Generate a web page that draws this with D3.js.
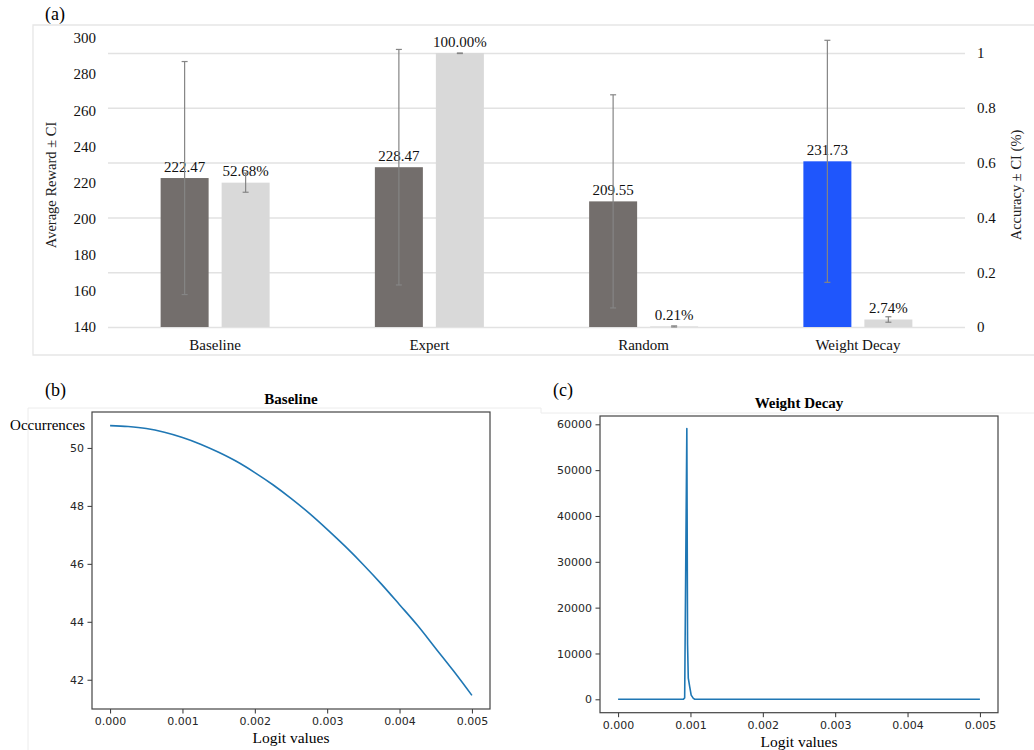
<!DOCTYPE html>
<html>
<head>
<meta charset="utf-8">
<script src="https://cdn.jsdelivr.net/npm/d3@7"></script>
<style>
    body { margin: 0; background: #fff; }
    svg { display: block; }
</style>
</head>
<body>
<div id="fig"></div>
<script>
// (a) bar chart values
var categories = ["Baseline", "Expert", "Random", "Weight Decay"];
var rewardMeans = [222.47, 228.47, 209.55, 231.73];
var rewardCI = [64.5, 65.2, 59.0, 67.0];
var accuracy = [0.5268, 1.0, 0.0021, 0.0274];
var accuracyCI = [0.035, 0.002, 0.002, 0.01];
var rewardTicks = [140, 160, 180, 200, 220, 240, 260, 280, 300];
var accuracyTicks = [0, 0.2, 0.4, 0.6, 0.8, 1];
var accuracyTickLabels = ["0", "0.2", "0.4", "0.6", "0.8", "1"];

// (b) baseline logit distribution
var baselineLogits = [0, 0.00025, 0.0005, 0.00075, 0.001, 0.00125, 0.0015, 0.00175, 0.002, 0.00225,
    0.0025, 0.00275, 0.003, 0.00325, 0.0035, 0.00375, 0.004, 0.00425, 0.0045, 0.00475, 0.005];
var baselineOccurrences = [50.77, 50.74, 50.67, 50.54, 50.36, 50.13, 49.85, 49.53, 49.15, 48.73,
    48.26, 47.75, 47.19, 46.60, 45.97, 45.30, 44.59, 43.87, 43.08, 42.29, 41.46];
var baselineYTicks = [42, 44, 46, 48, 50];

// (c) weight decay logit distribution
var decayLogits = [0, 0.0009, 0.00092, 0.00095, 0.00096, 0.00097, 0.00099, 0.00101, 0.00104, 0.00106, 0.005];
var decayOccurrences = [0, 0, 300, 59100, 12000, 4600, 2700, 900, 200, 0, 0];
var decayYTicks = [0, 10000, 20000, 30000, 40000, 50000, 60000];

var logitTicks = [0, 0.001, 0.002, 0.003, 0.004, 0.005];

var serif = "'Liberation Serif', 'Times New Roman', serif";
var sans = "'DejaVu Sans', sans-serif";

var svg = d3.select("#fig")
    .append("svg")
    .attr("width", 1034)
    .attr("height", 750);

// ---------- panel (a) ----------
var boxColor = "#e6e6e6";
svg.append("path")
    .attr("d", "M1034,25 H33 V355 H1034")
    .attr("fill", "none")
    .attr("stroke", boxColor)
    .attr("stroke-width", 1.3);

svg.append("text")
    .attr("x", 45)
    .attr("y", 20)
    .attr("font-family", serif)
    .attr("font-size", 18)
    .text("(a)");

var xBand = d3.scaleBand()
    .domain(categories)
    .range([108, 965]);

var rewardY = d3.scaleLinear()
    .domain([140, 300])
    .range([327, 38]);

var accY = d3.scaleLinear()
    .domain([0, 1])
    .range([327, 53]);

// gridlines follow the accuracy axis
var grid = svg.append("g")
    .attr("transform", "translate(108,0)")
    .call(d3.axisRight(accY).tickValues(accuracyTicks).tickSize(857).tickFormat(""));
grid.select(".domain").remove();
grid.selectAll("line").attr("stroke", "#e2e2e2").attr("stroke-width", 1.5);

var leftAxis = svg.append("g")
    .attr("transform", "translate(96,0)")
    .call(d3.axisLeft(rewardY).tickValues(rewardTicks).tickSize(0).tickPadding(0));
leftAxis.select(".domain").remove();
leftAxis.selectAll("text")
    .attr("font-family", serif)
    .attr("font-size", 15)
    .attr("fill", "#111");

var rightAxis = svg.append("g")
    .attr("transform", "translate(977,0)")
    .call(d3.axisRight(accY).tickValues(accuracyTicks).tickSize(0).tickPadding(0)
        .tickFormat(function (d, i) { return accuracyTickLabels[i]; }));
rightAxis.select(".domain").remove();
rightAxis.selectAll("text")
    .attr("font-family", serif)
    .attr("font-size", 15)
    .attr("fill", "#111");

var catAxis = svg.append("g")
    .attr("transform", "translate(0,327)")
    .call(d3.axisBottom(xBand).tickSize(0).tickPadding(12));
catAxis.select(".domain").remove();
catAxis.selectAll("text")
    .attr("font-family", serif)
    .attr("font-size", 15)
    .attr("fill", "#111");

svg.append("text")
    .attr("transform", "translate(56,185) rotate(-90)")
    .attr("text-anchor", "middle")
    .attr("font-family", serif)
    .attr("font-size", 14.5)
    .attr("fill", "#222")
    .text("Average Reward \u00b1 CI");

svg.append("text")
    .attr("transform", "translate(1021,185) rotate(-90)")
    .attr("text-anchor", "middle")
    .attr("font-family", serif)
    .attr("font-size", 14.5)
    .attr("fill", "#222")
    .text("Accuracy \u00b1 CI (%)");

function center(d) {
    return xBand(d) + xBand.bandwidth() / 2;
}

var barW = 48;
var groups = svg.selectAll(".cat")
    .data(categories)
    .enter()
    .append("g")
    .attr("class", "cat");

// reward bars
groups.append("rect")
    .attr("x", function (d) { return center(d) - 54.5; })
    .attr("y", function (d, i) { return rewardY(rewardMeans[i]); })
    .attr("width", barW)
    .attr("height", function (d, i) { return rewardY(140) - rewardY(rewardMeans[i]); })
    .attr("fill", function (d) { return d === "Weight Decay" ? "#1f56fc" : "#736e6c"; });

// accuracy bars
groups.append("rect")
    .attr("x", function (d) { return center(d) + 6.5; })
    .attr("y", function (d, i) { return accY(accuracy[i]); })
    .attr("width", barW)
    .attr("height", function (d, i) { return accY(0) - accY(accuracy[i]); })
    .attr("fill", "#d9d9d9");

groups.append("text")
    .attr("x", function (d) { return center(d) - 30.5; })
    .attr("y", function (d, i) { return rewardY(rewardMeans[i]) - 6; })
    .attr("text-anchor", "middle")
    .attr("font-family", serif)
    .attr("font-size", 15)
    .attr("fill", "#111")
    .text(function (d, i) { return rewardMeans[i].toFixed(2); });

groups.append("text")
    .attr("x", function (d) { return center(d) + 30.5; })
    .attr("y", function (d, i) { return accY(accuracy[i]) - 6.5; })
    .attr("text-anchor", "middle")
    .attr("font-family", serif)
    .attr("font-size", 15)
    .attr("fill", "#111")
    .text(function (d, i) { return (accuracy[i] * 100).toFixed(2) + "%"; });

function errorBar(sel, cx, top, bottom) {
    sel.append("line")
        .attr("x1", cx).attr("x2", cx)
        .attr("y1", top).attr("y2", bottom);
    sel.append("line")
        .attr("x1", cx - 3).attr("x2", cx + 3)
        .attr("y1", top).attr("y2", top);
    sel.append("line")
        .attr("x1", cx - 3).attr("x2", cx + 3)
        .attr("y1", bottom).attr("y2", bottom);
}

groups.each(function (d, i) {
    var g = d3.select(this).append("g")
        .attr("stroke", "#858585")
        .attr("stroke-width", 1.2);
    errorBar(g, center(d) - 30.5,
        rewardY(rewardMeans[i] + rewardCI[i]), rewardY(rewardMeans[i] - rewardCI[i]));
    errorBar(g, center(d) + 30.5,
        accY(Math.min(1, accuracy[i] + accuracyCI[i])), accY(Math.max(0, accuracy[i] - accuracyCI[i])));
});

// ---------- panels (b) and (c) ----------
svg.append("path")
    .attr("d", "M28,750 V408 H541 V413 H1034")
    .attr("fill", "none")
    .attr("stroke", "#ececec")
    .attr("stroke-width", 1);

function linePanel(opt) {
    var x = d3.scaleLinear()
        .domain([-0.00025, 0.00525])
        .range([opt.left, opt.right]);
    var y = d3.scaleLinear()
        .domain(opt.yDomain)
        .range([opt.bottom, opt.top]);

    var xa = svg.append("g")
        .attr("transform", "translate(0," + opt.bottom + ")")
        .call(d3.axisBottom(x).tickValues(logitTicks).tickFormat(d3.format(".3f")).tickSize(4.5).tickPadding(4));
    var ya = svg.append("g")
        .attr("transform", "translate(" + opt.left + ",0)")
        .call(d3.axisLeft(y).tickValues(opt.yTicks).tickFormat(d3.format("d")).tickSize(4.5).tickPadding(3.5));
    [xa, ya].forEach(function (a) {
        a.select(".domain").remove();
        a.selectAll("line").attr("stroke", "#333").attr("stroke-width", 1);
        a.selectAll("text")
            .attr("font-family", sans)
            .attr("font-size", 11)
            .attr("fill", "#262626");
    });

    svg.append("path")
        .datum(opt.xs)
        .attr("fill", "none")
        .attr("stroke", "#1f77b4")
        .attr("stroke-width", 1.6)
        .attr("stroke-linejoin", "round")
        .attr("d", d3.line()
            .x(function (d) { return x(d); })
            .y(function (d, i) { return y(opt.ys[i]); })
            .curve(opt.curve));

    svg.append("rect")
        .attr("x", opt.left)
        .attr("y", opt.top)
        .attr("width", opt.right - opt.left)
        .attr("height", opt.bottom - opt.top)
        .attr("fill", "none")
        .attr("stroke", "#444")
        .attr("stroke-width", 1.2);

    var mid = (opt.left + opt.right) / 2;
    svg.append("text")
        .attr("x", mid)
        .attr("y", opt.top - 8)
        .attr("text-anchor", "middle")
        .attr("font-family", serif)
        .attr("font-weight", "bold")
        .attr("font-size", 15)
        .text(opt.title);

    svg.append("text")
        .attr("x", mid)
        .attr("y", opt.bottom + 34)
        .attr("text-anchor", "middle")
        .attr("font-family", serif)
        .attr("font-size", 15.5)
        .text("Logit values");

    svg.append("text")
        .attr("x", opt.left - 47)
        .attr("y", 396)
        .attr("font-family", serif)
        .attr("font-size", 18)
        .text(opt.label);
}

linePanel({
    left: 92, right: 490, top: 412, bottom: 709,
    yDomain: [40.99, 51.24],
    yTicks: baselineYTicks,
    xs: baselineLogits, ys: baselineOccurrences,
    curve: d3.curveMonotoneX,
    title: "Baseline",
    label: "(b)"
});

svg.append("text")
    .attr("x", 85)
    .attr("y", 430)
    .attr("text-anchor", "end")
    .attr("font-family", serif)
    .attr("font-size", 15)
    .text("Occurrences");

linePanel({
    left: 600, right: 998, top: 416, bottom: 712.7,
    yDomain: [-2924, 61815],
    yTicks: decayYTicks,
    xs: decayLogits, ys: decayOccurrences,
    curve: d3.curveLinear,
    title: "Weight Decay",
    label: "(c)"
});
</script>
</body>
</html>
